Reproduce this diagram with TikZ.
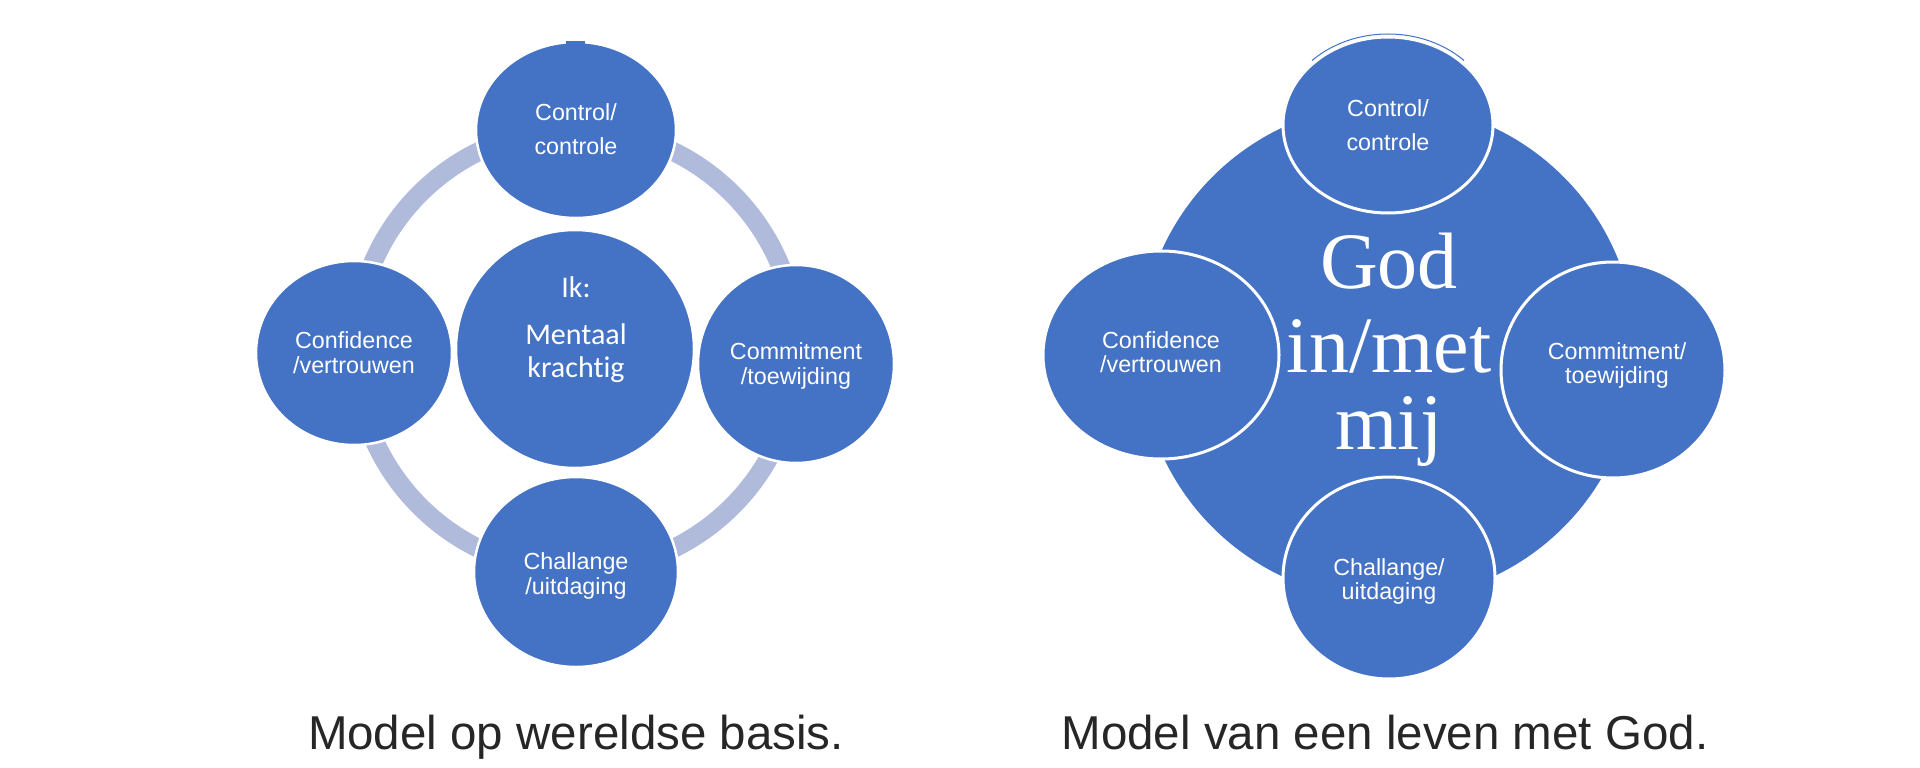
\documentclass[tikz,border=0pt]{standalone}
\usepackage{fontspec}
\setmainfont{Liberation Sans}
\newfontfamily\calibrifont[Ligatures=NoCommon]{Carlito}
\newfontfamily\timesfont{Liberation Serif}
\usetikzlibrary{shapes.geometric}
\definecolor{ppblue}{RGB}{68,114,196}
\definecolor{ringblue}{RGB}{176,187,220}
\definecolor{captgray}{RGB}{38,38,38}
\begin{document}
\begin{tikzpicture}[x=1pt,y=-1pt,
  sat/.style={ellipse, fill=ppblue, draw=white, line width=2.5pt, inner sep=0pt},
  satR/.style={sat, line width=3pt},
  lbl/.style={anchor=base, text=white, inner sep=0pt, font=\fontsize{23.3}{28}\selectfont},
  ctr/.style={anchor=base, text=white, inner sep=0pt, font=\calibrifont\fontsize{30}{36}\selectfont},
  god/.style={anchor=base, text=white, inner sep=0pt, font=\timesfont\fontsize{80}{90}\selectfont},
  capt/.style={anchor=base, text=captgray, inner sep=0pt, font=\fontsize{47.5}{56}\selectfont}]
\useasboundingbox[fill=white] (0,0) rectangle (1920,768);

% ---------------- left diagram ----------------
\coordinate (ringc) at (576,350);
\draw[ringblue, line width=19pt] (ringc) circle[radius=221];
\node[sat, minimum width=200pt, minimum height=176pt] (ctlL) at (576,130) {};
\fill[ppblue] (566,41) rectangle (585,46);
\node[sat, minimum width=196pt, minimum height=184pt] (cnfL) at (354,353) {};
\node[sat, minimum width=196pt, minimum height=198pt] (cmtL) at (796,364) {};
\node[sat, minimum width=204pt, minimum height=190pt] (chlL) at (576,572) {};
\node[sat, minimum width=238pt, minimum height=238pt] (ikL) at (575,349) {};

\node[lbl] (ctlL1) at (576,121) {Control/};
\node[lbl] (ctlL2) at (576,154) {controle};
\node[lbl] (cnfL1) at (354,348) {Confidence};
\node[lbl] (cnfL2) at (354,373) {/vertrouwen};
\node[lbl] (cmtL1) at (796,359) {Commitment};
\node[lbl] (cmtL2) at (796,384) {/toewijding};
\node[lbl] (chlL1) at (576,569) {Challange};
\node[lbl] (chlL2) at (576,594) {/uitdaging};
\node[ctr] (ikL1) at (576,297) {Ik:};
\node[ctr] (ikL2) at (576,344) {Mentaal};
\node[ctr] (ikL3) at (576,377) {krachtig};

\node[capt] (captL) at (576,749) {Model op wereldse basis.};

% ---------------- right diagram ----------------
\node[circle, fill=ppblue, inner sep=0pt, minimum size=496pt] (bigR) at (1388,352) {};
\node[satR, minimum width=210pt, minimum height=176pt] (ctlR) at (1388,125) {};
\draw[ppblue, line width=1pt] (1312,60.5) arc[start angle=225, end angle=315, x radius=107.5, y radius=90.5];
\node[satR, minimum width=236pt, minimum height=208pt] (cnfR) at (1161,355) {};
\node[satR, minimum width=224pt, minimum height=216pt] (cmtR) at (1613,370) {};
\node[satR, minimum width=212pt, minimum height=202pt] (chlR) at (1389,578) {};

\node[lbl] (ctlR1) at (1388,116) {Control/};
\node[lbl] (ctlR2) at (1388,150) {controle};
\node[lbl] (cnfR1) at (1161,348) {Confidence};
\node[lbl] (cnfR2) at (1161,372) {/vertrouwen};
\node[lbl] (cmtR1) at (1617,359) {Commitment/};
\node[lbl] (cmtR2) at (1617,383) {toewijding};
\node[lbl] (chlR1) at (1389,575) {Challange/};
\node[lbl] (chlR2) at (1389,599) {uitdaging};
\node[god] (godR1) at (1389,288) {God};
\node[god] (godR2) at (1389,372) {in/met};
\node[god] (godR3) at (1389,449) {mij};

\node[capt] (captR) at (1385,749) {Model van een leven met God.};
\end{tikzpicture}
\end{document}
